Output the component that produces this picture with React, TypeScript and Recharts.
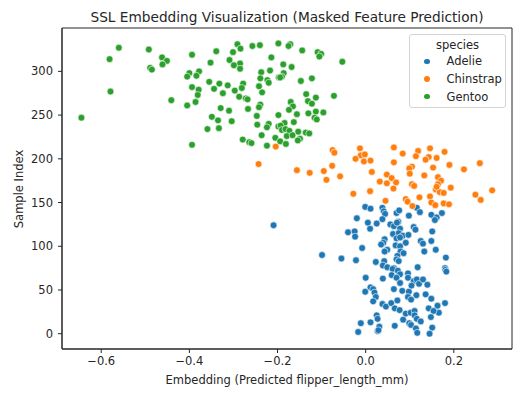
import { ScatterChart, Scatter, XAxis, YAxis, Legend, ReferenceArea } from "recharts";

const FONT = "'DejaVu Sans', sans-serif";
const INK = "#262626";

const X_DOMAIN: [number, number] = [-0.689, 0.332];
const Y_DOMAIN: [number, number] = [-17.5, 349.6];
const X_TICKS = [-0.6, -0.4, -0.2, 0, 0.2];
const Y_TICKS = [0, 50, 100, 150, 200, 250, 300];

// [embedding, sample index]
const adelie: [number, number][] = [
  [-0.001, 145], [0.011, 143], [0.038, 144], [0.041, 140], [0.044, 137], [0.07, 138], [0.076, 141],
  [0.074, 128], [0.098, 135], [0.116, 144], [0.123, 139], [0.149, 136], [0.161, 133], [0.157, 130],
  [0.173, 138], [0.038, 131], [-0.02, 132], [0.005, 127], [0.025, 126], [0.01, 120], [0.056, 125],
  [0.064, 123], [0.071, 127], [0.109, 122], [0.113, 119], [0.078, 120], [0.062, 114], [0.075, 115],
  [0.084, 112], [0.097, 113], [-0.04, 116], [-0.025, 117], [-0.024, 111], [0.151, 117], [0.043, 108],
  [0.04, 104], [0.035, 102], [0.07, 109], [0.078, 110], [0.091, 104], [0.125, 106], [0.13, 103],
  [0.149, 106], [0.068, 101], [0.078, 100], [-0.008, 98], [0.049, 96], [0.043, 94], [0.079, 94],
  [0.086, 92], [0.133, 94], [0.159, 96], [-0.099, 90], [-0.055, 86], [-0.022, 84], [0.072, 89],
  [0.07, 85], [0.075, 83], [0.182, 87], [0.023, 82], [0.042, 83], [0.039, 78], [0.049, 76],
  [0.064, 75], [0.118, 76], [0.18, 75], [0.181, 73], [0.183, 71], [0.0, 64], [0.039, 63],
  [0.061, 74], [0.073, 72], [0.059, 67], [0.078, 68], [0.07, 64], [0.078, 58], [0.096, 69],
  [0.096, 64], [0.109, 60], [0.116, 62], [0.104, 55], [0.121, 57], [0.13, 62], [0.14, 56],
  [0.011, 53], [0.017, 51], [-0.001, 48], [0.02, 47], [0.023, 42], [0.017, 37], [0.064, 51],
  [0.083, 49], [0.098, 48], [0.115, 44], [0.096, 42], [0.103, 39], [0.136, 45], [0.149, 40],
  [0.038, 34], [0.046, 31], [0.058, 35], [0.072, 38], [0.066, 29], [0.077, 27], [0.143, 29],
  [0.163, 32], [0.166, 24], [0.154, 26], [0.18, 35], [0.091, 23], [0.102, 24], [0.111, 26],
  [0.111, 21], [0.085, 16], [0.099, 12], [0.103, 10], [0.116, 17], [0.125, 14], [0.148, 19],
  [0.025, 21], [0.027, 17], [0.011, 13], [-0.011, 12], [0.066, 9], [0.031, 8], [0.027, 3],
  [0.029, 4], [-0.017, 2], [0.114, 6], [0.117, 1], [0.151, 7], [0.145, 0], [-0.209, 124],
];

const chinstrap: [number, number][] = [
  [-0.204, 214], [-0.243, 194], [-0.075, 210], [-0.071, 207], [-0.013, 212], [-0.011, 204],
  [-0.002, 205], [-0.023, 200], [-0.004, 197], [0.011, 198], [0.064, 213], [0.084, 206],
  [0.119, 209], [0.114, 203], [0.146, 212], [0.143, 202], [0.136, 199], [0.161, 201],
  [0.179, 208], [0.064, 196], [0.19, 193], [0.259, 195], [-0.156, 187], [-0.127, 184],
  [-0.095, 186], [-0.089, 176], [-0.076, 192], [-0.058, 180], [0.014, 185], [0.105, 191],
  [0.099, 189], [0.1, 183], [0.133, 181], [0.153, 190], [0.223, 188], [0.048, 182],
  [0.059, 178], [0.032, 174], [0.048, 172], [0.069, 173], [0.105, 171], [0.11, 169],
  [0.063, 166], [0.164, 179], [0.171, 175], [0.164, 171], [0.159, 165], [0.168, 162],
  [0.161, 168], [0.193, 167], [0.177, 161], [0.287, 164], [0.249, 159], [0.261, 153],
  [-0.028, 160], [0.01, 163], [0.045, 152], [0.091, 154], [0.095, 151], [0.122, 156],
  [0.146, 157], [0.149, 150], [0.158, 147], [0.177, 149], [0.189, 148], [0.106, 146],
];

const gentoo: [number, number][] = [
  [-0.56, 327], [-0.581, 314], [-0.492, 325], [-0.462, 316], [-0.451, 312], [-0.461, 308],
  [-0.489, 304], [-0.485, 302], [-0.394, 319], [-0.339, 323], [-0.352, 310], [-0.291, 331],
  [-0.284, 326], [-0.257, 329], [-0.24, 330], [-0.198, 332], [-0.301, 322], [-0.309, 313],
  [-0.285, 309], [-0.299, 307], [-0.285, 303], [-0.214, 316], [-0.4, 298], [-0.405, 294],
  [-0.378, 300], [-0.384, 295], [-0.237, 299], [-0.217, 301], [-0.197, 293], [-0.355, 288],
  [-0.332, 286], [-0.313, 284], [-0.278, 286], [-0.281, 281], [-0.239, 292], [-0.223, 290],
  [-0.22, 287], [-0.242, 283], [-0.394, 282], [-0.379, 279], [-0.344, 280], [-0.324, 275],
  [-0.297, 278], [-0.235, 276], [-0.381, 273], [-0.579, 277], [-0.441, 267], [-0.405, 261],
  [-0.386, 265], [-0.287, 271], [-0.272, 269], [-0.268, 268], [-0.239, 262], [-0.242, 259],
  [-0.329, 258], [-0.31, 255], [-0.267, 257], [-0.198, 250], [-0.645, 247], [-0.349, 248],
  [-0.335, 244], [-0.304, 243], [-0.247, 249], [-0.359, 234], [-0.333, 235], [-0.246, 239],
  [-0.22, 240], [-0.224, 236], [-0.198, 237], [-0.236, 227], [-0.205, 224], [-0.279, 222],
  [-0.264, 219], [-0.259, 218], [-0.394, 216], [-0.224, 215], [-0.171, 331], [-0.175, 329],
  [-0.144, 324], [-0.109, 322], [-0.101, 320], [-0.105, 317], [-0.053, 311], [-0.187, 308],
  [-0.168, 305], [-0.186, 298], [-0.19, 294], [-0.194, 293], [-0.147, 289], [-0.122, 292],
  [-0.135, 274], [-0.113, 270], [-0.131, 266], [-0.122, 263], [-0.072, 272], [-0.17, 265],
  [-0.165, 260], [-0.174, 256], [-0.156, 251], [-0.13, 252], [-0.113, 254], [-0.096, 253],
  [-0.116, 247], [-0.111, 245], [-0.163, 242], [-0.184, 241], [-0.193, 238], [-0.19, 233],
  [-0.182, 234], [-0.173, 232], [-0.179, 226], [-0.153, 231], [-0.149, 223], [-0.154, 221],
  [-0.136, 230], [-0.128, 229], [-0.166, 227], [-0.194, 220], [-0.181, 217],
];

const SPECIES = [
  { name: "Adelie", color: "#1f77b4", points: adelie },
  { name: "Chinstrap", color: "#ff7f0e", points: chinstrap },
  { name: "Gentoo", color: "#2ca02c", points: gentoo },
];

const fmt = (v: number) => (v < 0 ? "\u2212" + Math.abs(v).toFixed(1) : v.toFixed(1));

function dot(color: string) {
  // eslint-disable-next-line @typescript-eslint/no-explicit-any
  return (p: any) => <circle cx={p.cx} cy={p.cy} r={3.4} fill={color} stroke="#fff" strokeWidth={0.6} />;
}

function SpeciesLegend() {
  return (
    <div
      style={{
        width: 97, height: 74, boxSizing: "border-box", border: "1px solid #d4d4d4", borderRadius: 3,
        background: "rgba(255,255,255,0.85)", fontFamily: FONT, fontSize: 11.5, color: INK,
      }}
    >
      <div style={{ textAlign: "center", lineHeight: "15px", paddingTop: 2.5 }}>species</div>
      {SPECIES.map((s) => (
        <div key={s.name} style={{ display: "flex", alignItems: "center", height: 17.7, whiteSpace: "nowrap" }}>
          <span style={{ width: 5.5, height: 5.5, borderRadius: 3, background: s.color, marginLeft: 14, marginRight: 17 }} />
          {s.name}
        </div>
      ))}
    </div>
  );
}

export default function App() {
  return (
    <div style={{ position: "absolute", left: 0, top: 0, width: 529, height: 396, background: "#fff" }}>
      <div
        style={{
          position: "absolute", left: 62, width: 450, top: 9, textAlign: "center",
          fontFamily: FONT, fontSize: 13.7, lineHeight: "16px", color: INK,
        }}
      >
        SSL Embedding Visualization (Masked Feature Prediction)
      </div>
      <ScatterChart width={529} height={396} margin={{ top: 28, right: 17, left: 0, bottom: 0 }}>
        <XAxis
          type="number" dataKey="x" domain={X_DOMAIN} ticks={X_TICKS} allowDataOverflow
          tickFormatter={fmt} height={47} tickSize={4} tickMargin={4}
          tick={{ fill: INK, fontSize: 11.5, fontFamily: FONT }}
          axisLine={{ stroke: INK }} tickLine={{ stroke: INK }}
          label={{
            content: () => (
              <text x={287} y={384} textAnchor="middle" fill={INK} fontSize={11.5} fontFamily={FONT}>
                Embedding (Predicted flipper_length_mm)
              </text>
            ),
          }}
        />
        <YAxis
          type="number" dataKey="y" domain={Y_DOMAIN} ticks={Y_TICKS} allowDataOverflow
          width={62} tickSize={4} tickMargin={5}
          tick={{ fill: INK, fontSize: 11.5, fontFamily: FONT }}
          axisLine={{ stroke: INK }} tickLine={{ stroke: INK }}
          label={{
            content: () => (
              <text
                x={18.5} y={189} textAnchor="middle" dominantBaseline="central"
                transform="rotate(-90 18.5 189)" fill={INK} fontSize={11.5} fontFamily={FONT}
              >
                Sample Index
              </text>
            ),
          }}
        />
        {SPECIES.map((s) => (
          <Scatter
            key={s.name}
            name={s.name}
            data={s.points.map(([x, y]) => ({ x, y }))}
            fill={s.color}
            shape={dot(s.color)}
            isAnimationActive={false}
          />
        ))}
        <ReferenceArea
          x1={X_DOMAIN[0]} x2={X_DOMAIN[1]} y1={Y_DOMAIN[0]} y2={Y_DOMAIN[1]}
          fill="none" fillOpacity={0} stroke={INK} strokeWidth={1}
        />
        <Legend
          layout="vertical" align="center" verticalAlign="middle"
          content={<SpeciesLegend />}
          wrapperStyle={{ left: 409, top: 34, width: 97 }}
        />
      </ScatterChart>
    </div>
  );
}
